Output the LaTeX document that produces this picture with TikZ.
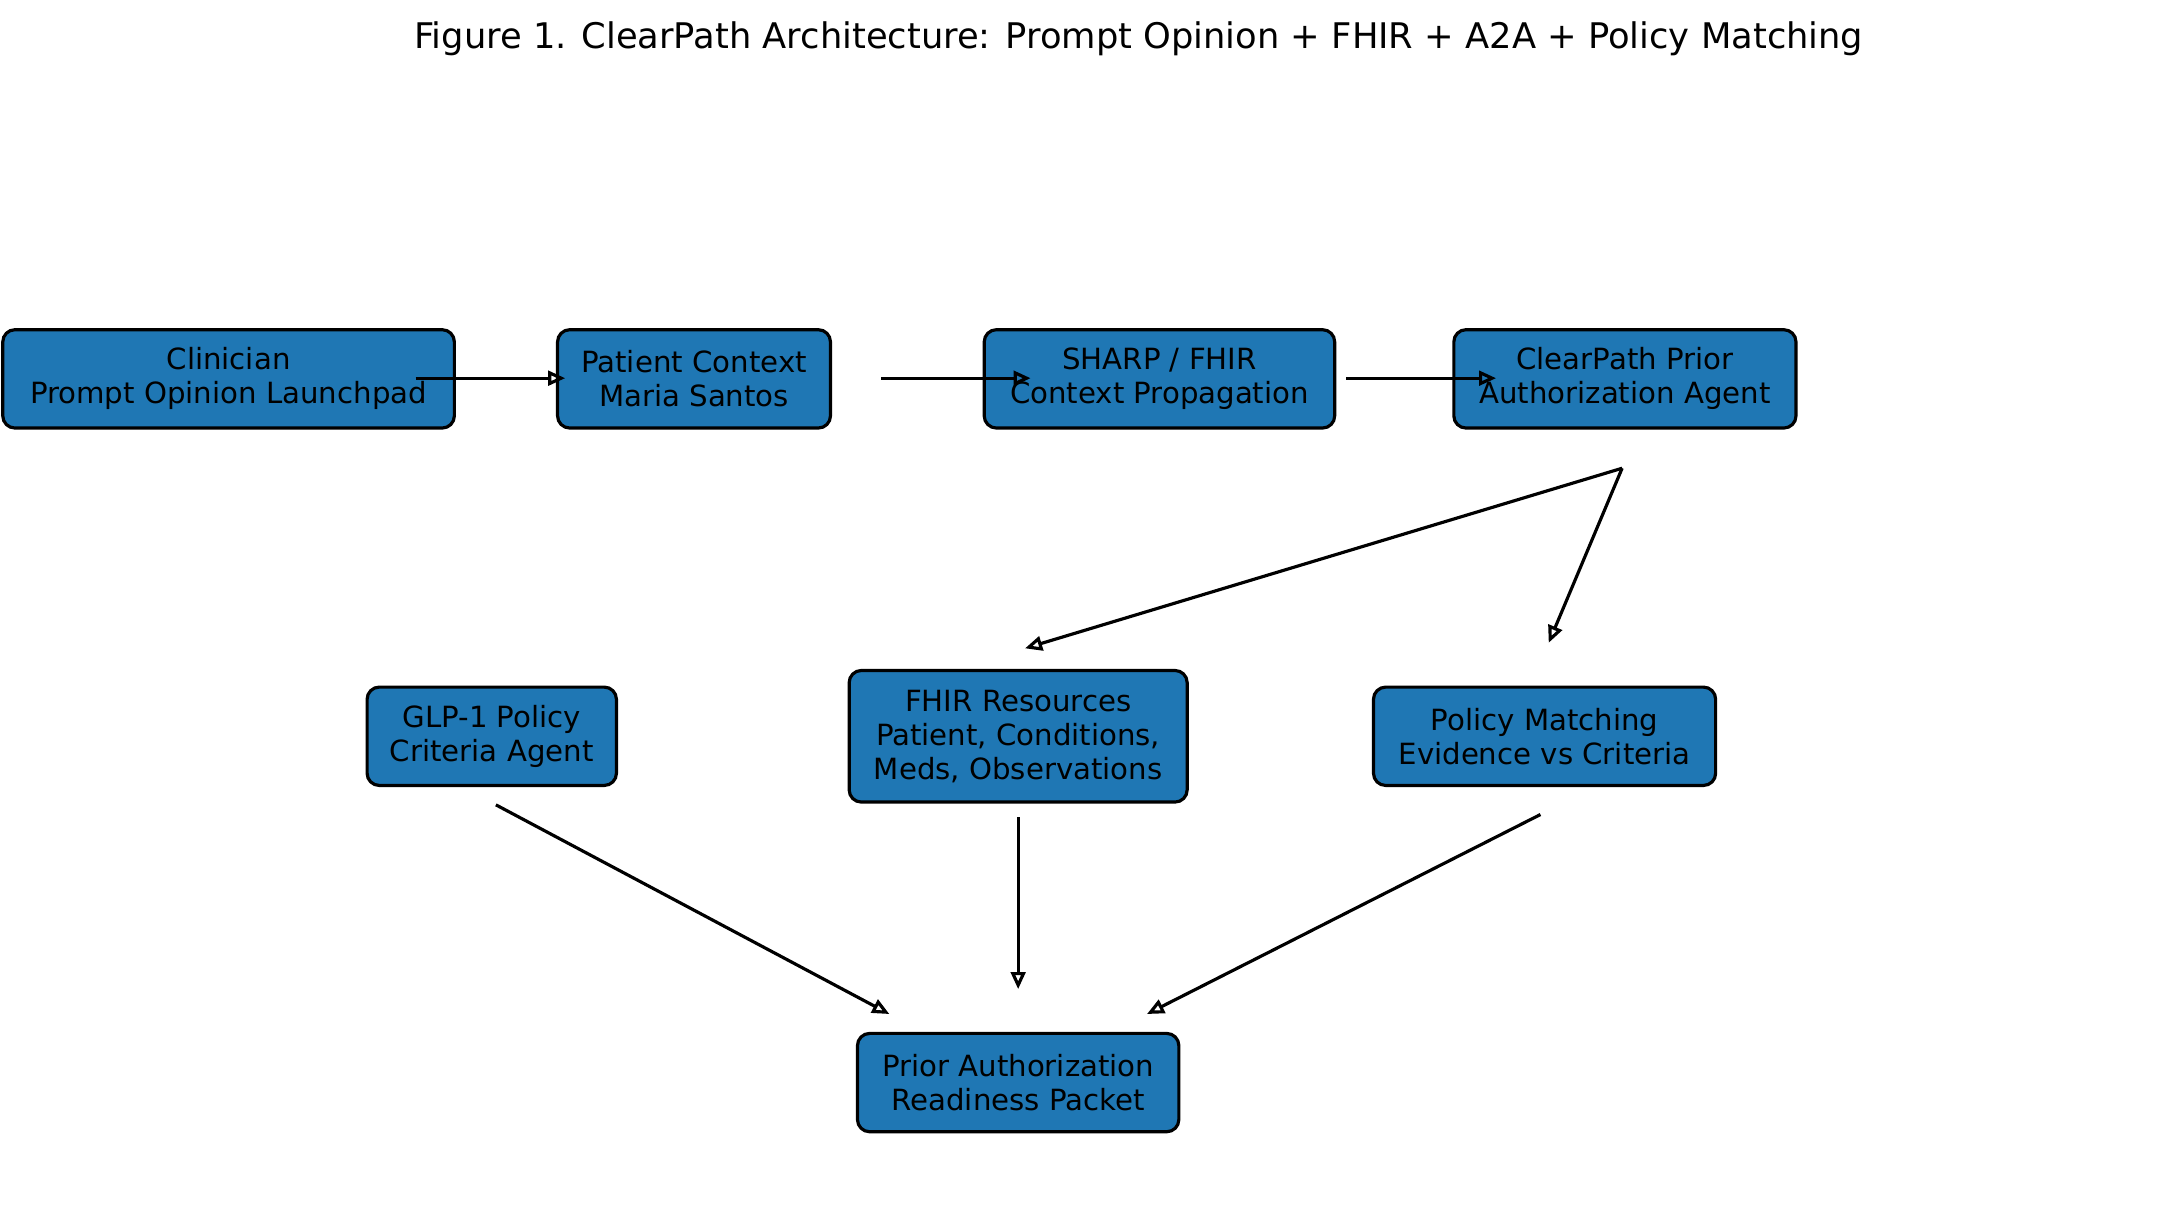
\documentclass[tikz,border=0pt]{standalone}
\usepackage{fontspec}
\setmainfont{DejaVu Sans}
\usetikzlibrary{arrows.meta, positioning}
\definecolor{boxblue}{HTML}{1F77B4}

\begin{document}
\begin{tikzpicture}[x=0.2mm, y=-0.2mm,
    box/.style={draw=black, line width=1.3pt, fill=boxblue, rounded corners=5pt,
        align=center, inner sep=0pt, font=\fontsize{12}{14}\selectfont},
    flow/.style={-{Stealth[length=7pt, width=6pt, inset=0pt, open]}, line width=1.3pt, black}]
    \useasboundingbox (0,0) rectangle (1560,871);
    \node[font=\fontsize{14.5}{17}\selectfont] (title) at (822,28)
        {Figure 1. ClearPath Architecture: Prompt Opinion + FHIR + A2A + Policy Matching};

    % Top row
    \node[box, minimum width=326*0.2mm, minimum height=71*0.2mm] (launch) at (165,273.5) {Clinician\\Prompt Opinion Launchpad};
    \node[box, minimum width=197*0.2mm, minimum height=71*0.2mm] (patient) at (501,273.5) {Patient Context\\Maria Santos};
    \node[box, minimum width=253*0.2mm, minimum height=71*0.2mm] (sharp) at (837,273.5) {SHARP / FHIR\\Context Propagation};
    \node[box, minimum width=247*0.2mm, minimum height=71*0.2mm] (agent) at (1173,273.5) {ClearPath Prior\\Authorization Agent};

    % Middle row
    \node[box, minimum width=180*0.2mm, minimum height=71*0.2mm] (glp) at (355,531.5) {GLP-1 Policy\\Criteria Agent};
    \node[box, minimum width=244*0.2mm, minimum height=95*0.2mm] (fhir) at (735,531.5) {FHIR Resources\\Patient, Conditions,\\Meds, Observations};
    \node[box, minimum width=247*0.2mm, minimum height=71*0.2mm] (match) at (1115,531.5) {Policy Matching\\Evidence vs Criteria};

    % Bottom
    \node[box, minimum width=232*0.2mm, minimum height=71*0.2mm] (packet) at (735,781.5) {Prior Authorization\\Readiness Packet};

    % Arrow ends
    \coordinate (a1) at (300,273);  \coordinate (a2) at (408,273);
    \coordinate (b1) at (636,273);  \coordinate (b2) at (744,273);
    \coordinate (c1) at (972,273);  \coordinate (c2) at (1080,273);
    \coordinate (d0) at (1171,338);
    \coordinate (d1) at (740,468);  \coordinate (d2) at (1118,464);
    \coordinate (e1) at (358,581);  \coordinate (e2) at (642,732);
    \coordinate (f1) at (735,590);  \coordinate (f2) at (735,714);
    \coordinate (g1) at (1112,588); \coordinate (g2) at (828,732);

    \draw[flow] (a1) -- (a2);
    \draw[flow] (b1) -- (b2);
    \draw[flow] (c1) -- (c2);
    \draw[flow] (d0) -- (d1);
    \draw[flow] (d0) -- (d2);
    \draw[flow] (e1) -- (e2);
    \draw[flow] (f1) -- (f2);
    \draw[flow] (g1) -- (g2);
\end{tikzpicture}
\end{document}
